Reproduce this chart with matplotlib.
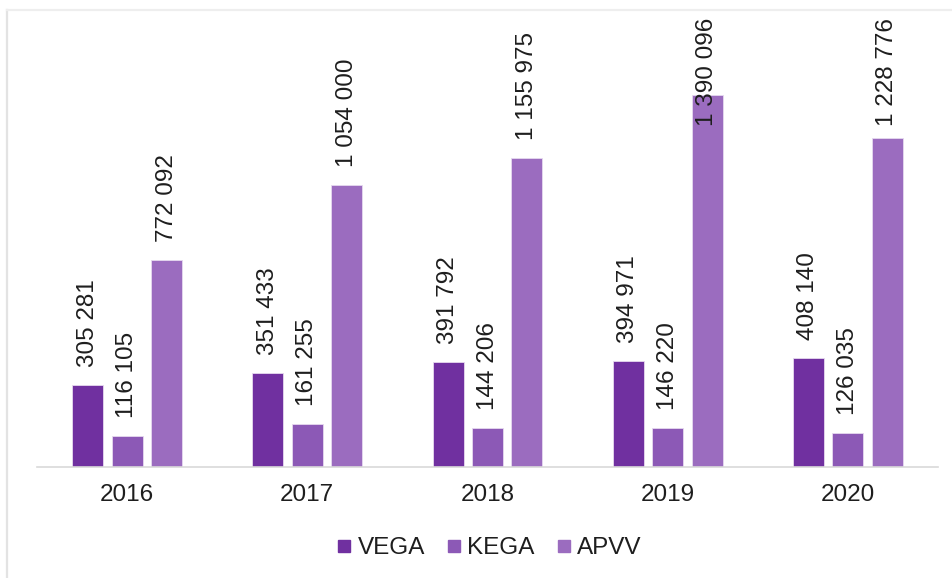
import matplotlib
matplotlib.use('Agg')
import matplotlib.pyplot as plt
from matplotlib.lines import Line2D
import numpy as np

# Data
years = ['2016', '2017', '2018', '2019', '2020']
vega = [305281, 351433, 391792, 394971, 408140]
kega = [116105, 161255, 144206, 146220, 126035]
apvv = [772092, 1054000, 1155975, 1390096, 1228776]

series_names = ['VEGA', 'KEGA', 'APVV']
colors = ['#7030a0', '#8c59b6', '#9b6cbf']

plt.rcParams['font.family'] = ['Liberation Sans', 'DejaVu Sans']
text_color = '#1e1e1e'
fsize = 17.5

W, H = 953, 578
fig = plt.figure(figsize=(W / 100, H / 100), dpi=100, facecolor='white')

# plot area in pixel terms: left 37, right 938, bottom 467, top 10
ax = fig.add_axes([37 / W, 1 - 467 / H, (938 - 37) / W, (467 - 10) / H])
ax.set_facecolor('white')

x = np.arange(len(years))
width = 0.172
step = 0.219

texts = []
for i, (vals, name, col) in enumerate(zip([vega, kega, apvv], series_names, colors)):
    xs = x + (i - 1) * step
    ax.bar(xs, vals, width, color=col, edgecolor='#e6d9ef', linewidth=0.6, label=name)
    for xi, v in zip(xs, vals):
        lbl = f'{v:,}'.replace(',', ' ')
        t = ax.annotate(lbl, xy=(xi, v), xytext=(0, 13), textcoords='offset points',
                        rotation=90, ha='center', va='bottom', fontsize=fsize,
                        color=text_color, annotation_clip=False)
        texts.append(t)

ax.set_xlim(-0.5, len(years) - 0.5)
ax.set_ylim(0, 1708000)
ax.set_xticks(x)
ax.set_xticklabels(years, fontsize=fsize, color=text_color)
ax.tick_params(axis='x', length=0, pad=12)
ax.set_yticks([])
for s in ['top', 'right', 'left']:
    ax.spines[s].set_visible(False)
ax.spines['bottom'].set_color('#d9d9d9')
ax.spines['bottom'].set_linewidth(1.2)

# push labels that would run off the top back inside the chart area
fig.canvas.draw()
renderer = fig.canvas.get_renderer()
limit = H - 18
for t in texts:
    bb = t.get_window_extent(renderer)
    if bb.y1 > limit:
        shift_px = bb.y1 - limit
        ox, oy = t.xyann
        t.xyann = (ox, oy - shift_px * 72 / 100)

# legend at the bottom
handles = [Line2D([], [], marker='s', linestyle='none', markersize=8,
                  markerfacecolor=c, markeredgecolor=c) for c in colors]
fig.legend(handles, series_names, loc='center', bbox_to_anchor=(490 / W, 1 - 548 / H),
           ncol=3, frameon=False, fontsize=fsize, handlelength=0.5, handletextpad=0.3,
           columnspacing=0.95, labelcolor=text_color)

# faint outer frame (left and top edges)
fig.add_artist(Line2D([7 / W, 7 / W], [0, 1 - 10 / H], transform=fig.transFigure,
                      color='#e3e3e3', linewidth=1.6))
fig.add_artist(Line2D([7 / W, 1], [1 - 10 / H, 1 - 10 / H], transform=fig.transFigure,
                      color='#eeeeee', linewidth=1.6))

fig.savefig('out.png', dpi=100, facecolor='white')
